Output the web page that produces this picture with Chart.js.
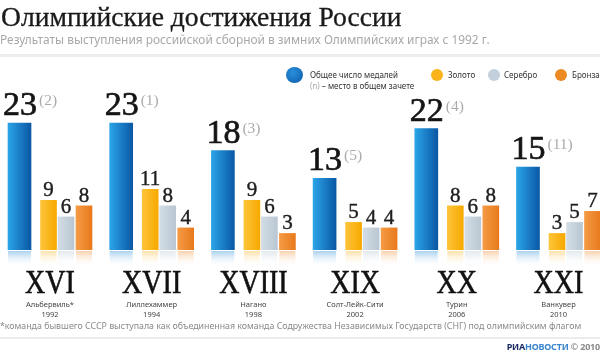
<!DOCTYPE html>
<html lang="ru">
<head>
<meta charset="utf-8">
<script src="https://cdn.jsdelivr.net/npm/chart.js@4.4.1/dist/chart.umd.min.js"></script>
<style>
    html, body { margin: 0; padding: 0; background: #fff; }
    body { width: 600px; height: 354px; position: relative; overflow: hidden; font-family: "Noto Sans", sans-serif; }
    #chart { position: absolute; left: 0; top: 0; }
    .abs { position: absolute; white-space: nowrap; }
    .title { left: 1px; top: 1px; font: 27.6px "Liberation Serif", serif; color: #1a1a1a; -webkit-text-stroke: 0.3px #1a1a1a; }
    .subtitle { left: 0; top: 31px; font-size: 11.9px; color: #a8a8a8; }
    .rule { left: 0; width: 600px; height: 3px; background: #ececec; }
    .dot { position: absolute; border-radius: 50%; }
    .legend-text { font-size: 8px; color: #333; }
    .footnote { left: 0; top: 320px; font-size: 8.8px; color: #8a8a8a; }
    .logo { right: 0; top: 340px; font-size: 9px; font-weight: bold; letter-spacing: -0.2px; }
</style>
</head>
<body>
<canvas id="chart" width="600" height="354"></canvas>

<div class="abs title">Олимпийские достижения России</div>
<div class="abs subtitle">Результаты выступления российской сборной в зимних Олимпийских играх с 1992 г.</div>
<div class="abs rule" style="top: 54px;"></div>

<div class="dot" style="left: 286px; top: 67px; width: 17px; height: 16px; background: radial-gradient(circle at 40% 35%, #2a8fdc, #0b5aa8);"></div>
<div class="abs legend-text" style="left: 310px; top: 69px;">Общее число медалей</div>
<div class="abs legend-text" style="left: 310px; top: 80px;"><span style="color:#aaa">(n)</span> – место в общем зачете</div>
<div class="dot" style="left: 431px; top: 69px; width: 12px; height: 12px; background: #fbb31c;"></div>
<div class="abs legend-text" style="left: 448px; top: 69px;">Золото</div>
<div class="dot" style="left: 488px; top: 69px; width: 12px; height: 12px; background: #c3d0db;"></div>
<div class="abs legend-text" style="left: 504px; top: 69px;">Серебро</div>
<div class="dot" style="left: 555px; top: 69px; width: 12px; height: 12px; background: #ec8a24;"></div>
<div class="abs legend-text" style="left: 572px; top: 69px;">Бронза</div>

<div class="abs footnote">*команда бывшего СССР выступала как объединенная команда Содружества Независимых Государств (СНГ) под олимпийским флагом</div>
<div class="abs rule" style="top: 337px; height: 2px;"></div>
<div class="abs logo"><span style="color:#1c2d63">РИА</span><span style="color:#3b86d0">НОВОСТИ</span> <span style="color:#8a8a8a">© 2010</span></div>

<script>
const games = ["XVI", "XVII", "XVIII", "XIX", "XX", "XXI"];
const cities = ["Альбервиль*", "Лиллехаммер", "Нагано", "Солт-Лейк-Сити", "Турин", "Ванкувер"];
const years = ["1992", "1994", "1998", "2002", "2006", "2010"];
const totalMedals = [23, 23, 18, 13, 22, 15];
const ranks = [2, 1, 3, 5, 4, 11];
const goldMedals = [9, 11, 9, 5, 8, 3];
const silverMedals = [6, 8, 6, 4, 6, 5];
const bronzeMedals = [8, 4, 3, 4, 8, 7];

// layout in pixels: distance between games, first total bar centre, baseline, px per medal
const groupPx = 101.7;
const firstPx = 19.5;
const baseY = 250;
const medalPx = 5.52;

const series = [
    { data: totalMedals, offsetPx: 0, width: 23, left: "#2ba4e8", right: "#0a58a5", shadow: "rgba(40,140,215,0.45)", big: true },
    { data: goldMedals, offsetPx: 29, width: 16, left: "#fdc43a", right: "#f7a900", shadow: "rgba(250,180,40,0.45)" },
    { data: silverMedals, offsetPx: 46.5, width: 16, left: "#d3dde5", right: "#b9c7d2", shadow: "rgba(190,205,215,0.5)" },
    { data: bronzeMedals, offsetPx: 64.5, width: 16, left: "#f49b45", right: "#e87a1c", shadow: "rgba(240,140,50,0.45)" }
];

function barGradient(s) {
    return (context) => {
        const chart = context.chart;
        const raw = context.raw;
        if (!chart.chartArea || !raw) return s.right;
        const px = chart.scales.x.getPixelForValue(raw.x);
        const g = chart.ctx.createLinearGradient(px - s.width / 2, 0, px + s.width / 2, 0);
        g.addColorStop(0, s.left);
        g.addColorStop(1, s.right);
        return g;
    };
}

function heavyText(ctx, txt, x, y, stroke) {
    ctx.lineWidth = stroke;
    ctx.strokeStyle = ctx.fillStyle;
    ctx.strokeText(txt, x, y);
    ctx.fillText(txt, x, y);
}

const labelsPlugin = {
    id: "medalLabels",
    afterDatasetsDraw(chart) {
        const ctx = chart.ctx;
        const xScale = chart.scales.x;
        ctx.save();
        ctx.textBaseline = "alphabetic";
        series.forEach((s, di) => {
            const meta = chart.getDatasetMeta(di);
            meta.data.forEach((bar, i) => {
                // reflection under the baseline
                const rg = ctx.createLinearGradient(0, bar.base, 0, bar.base + 17);
                rg.addColorStop(0, s.shadow);
                rg.addColorStop(1, "rgba(255,255,255,0)");
                ctx.fillStyle = rg;
                ctx.fillRect(bar.x - s.width / 2, bar.base + 1, s.width, 17);

                if (s.big) {
                    ctx.textAlign = "left";
                    ctx.font = '34px "Liberation Serif"';
                    ctx.fillStyle = "#141414";
                    const txt = String(s.data[i]);
                    const x0 = bar.x - s.width / 2 - 5;
                    const yb = bar.y - 8;
                    heavyText(ctx, txt, x0, yb, 0.7);
                    const w = ctx.measureText(txt).width;
                    ctx.font = '15.5px "Liberation Serif"';
                    ctx.fillStyle = "#ababab";
                    ctx.fillText("(" + ranks[i] + ")", x0 + w + 2, yb - 10);
                } else {
                    ctx.textAlign = "center";
                    ctx.font = '21px "Liberation Serif"';
                    ctx.fillStyle = "#1e1e1e";
                    heavyText(ctx, String(s.data[i]), bar.x, bar.y - 4, 0.4);
                }
            });
        });

        games.forEach((g, i) => {
            const cx = xScale.getPixelForValue(i) + 30.5;
            ctx.save();
            ctx.translate(cx, 293);
            ctx.scale(0.85, 1);
            ctx.textAlign = "center";
            ctx.font = '33px "Liberation Serif"';
            ctx.fillStyle = "#111";
            heavyText(ctx, g, 0, 0, 0.6);
            ctx.restore();
            ctx.textAlign = "center";
            ctx.font = '7.5px "Noto Sans"';
            ctx.fillStyle = "#444";
            ctx.fillText(cities[i], cx, 307);
            ctx.fillText(years[i], cx, 317);
        });
        ctx.restore();
    }
};

new Chart(document.getElementById("chart"), {
    type: "bar",
    data: {
        datasets: series.map((s) => ({
            data: s.data.map((v, i) => ({ x: i + s.offsetPx / groupPx, y: v })),
            grouped: false,
            barThickness: s.width,
            backgroundColor: barGradient(s),
            borderWidth: 0
        }))
    },
    options: {
        responsive: false,
        animation: false,
        events: [],
        layout: { padding: { top: 0, left: 0, right: 0, bottom: 354 - baseY } },
        plugins: {
            legend: { display: false },
            tooltip: { enabled: false }
        },
        scales: {
            x: {
                type: "linear",
                display: false,
                offset: false,
                min: -firstPx / groupPx,
                max: (600 - firstPx) / groupPx
            },
            y: {
                display: false,
                min: 0,
                max: baseY / medalPx
            }
        }
    },
    plugins: [labelsPlugin]
});
</script>
</body>
</html>
